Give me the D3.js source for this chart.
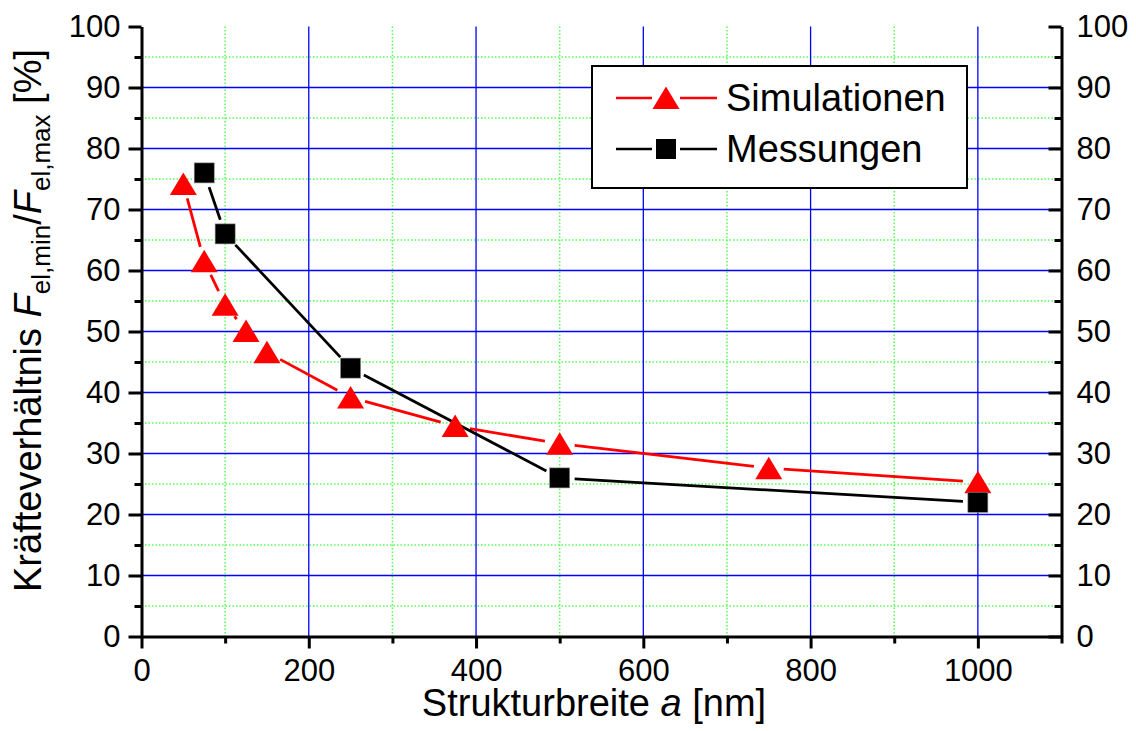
<!DOCTYPE html>
<html>
<head>
<meta charset="utf-8">
<script src="https://cdn.jsdelivr.net/npm/d3@7"></script>
<style>
body{margin:0;background:#fff;}
text{font-family:"Liberation Sans",Arial,sans-serif;fill:#000;}
</style>
</head>
<body>
<svg id="chart" width="1136" height="731"></svg>
<script>
// Simulationen (triangles)
var simX = [50, 75, 100, 125, 150, 250, 375, 500, 750, 1000]
var simY = [74.2, 61.5, 54.4, 50.1, 46.6, 39.2, 34.5, 31.6, 27.6, 25.3]
// Messungen (squares)
var messX = [75, 100, 250, 500, 1000]
var messY = [76, 66, 44, 26, 22]

var xTicks = [0, 200, 400, 600, 800, 1000]
var yTicks = [0, 10, 20, 30, 40, 50, 60, 70, 80, 90, 100]
var seriesNames = ["Simulationen", "Messungen"]

var svg = d3.select("#chart")
var plotLeft = 141.5, plotRight = 1061.5, plotTop = 26.5, plotBottom = 636.5

var xScale = d3.scaleLinear().domain([0, 1100]).range([plotLeft, plotRight])
var yScale = d3.scaleLinear().domain([0, 100]).range([plotBottom, plotTop])

// minor grid (green dotted)
var xMinor = d3.range(100, 1100, 200)
var yMinor = d3.range(5, 100, 10)
svg.append("g").selectAll("line").data(xMinor).enter().append("line")
    .attr("x1", function(d){return xScale(d)}).attr("x2", function(d){return xScale(d)})
    .attr("y1", plotTop).attr("y2", plotBottom)
    .attr("stroke", "#55ff55").attr("stroke-width", 1.5).attr("stroke-dasharray", "1.5,2")
svg.append("g").selectAll("line").data(yMinor).enter().append("line")
    .attr("y1", function(d){return yScale(d)}).attr("y2", function(d){return yScale(d)})
    .attr("x1", plotLeft).attr("x2", plotRight)
    .attr("stroke", "#55ff55").attr("stroke-width", 1.5).attr("stroke-dasharray", "1.5,2")
// major grid (blue)
svg.append("g").selectAll("line").data(xTicks.filter(function(d){return d > 0})).enter().append("line")
    .attr("x1", function(d){return xScale(d)}).attr("x2", function(d){return xScale(d)})
    .attr("y1", plotTop).attr("y2", plotBottom)
    .attr("stroke", "#0000ff").attr("stroke-width", 1.3)
svg.append("g").selectAll("line").data(yTicks.filter(function(d){return d > 0 && d < 100})).enter().append("line")
    .attr("y1", function(d){return yScale(d)}).attr("y2", function(d){return yScale(d)})
    .attr("x1", plotLeft).attr("x2", plotRight)
    .attr("stroke", "#0000ff").attr("stroke-width", 1.3)

// axes
function styleAxis(g){
    g.selectAll("path").attr("stroke", "#000").attr("stroke-width", 3)
    g.selectAll("line").attr("stroke", "#000").attr("stroke-width", 3)
    g.selectAll("text").style("font-size", "31px").style("font-family", "Liberation Sans, Arial, sans-serif")
}
var fmt = d3.format("d")
var xAxis = svg.append("g").attr("transform", "translate(0," + plotBottom + ")")
    .call(d3.axisBottom(xScale).tickValues(xTicks).tickFormat(fmt).tickSize(12).tickSizeOuter(0).tickPadding(10))
styleAxis(xAxis)
var xMinorAxis = svg.append("g").attr("transform", "translate(0," + plotBottom + ")")
    .call(d3.axisBottom(xScale).tickValues(xMinor.concat([1100])).tickSize(7).tickSizeOuter(0).tickFormat(""))
styleAxis(xMinorAxis)
xMinorAxis.select("path").remove()

var yAxisL = svg.append("g").attr("transform", "translate(" + plotLeft + ",0)")
    .call(d3.axisLeft(yScale).tickValues(yTicks).tickFormat(fmt).tickSize(13).tickSizeOuter(0).tickPadding(8))
styleAxis(yAxisL)
var yMinorL = svg.append("g").attr("transform", "translate(" + plotLeft + ",0)")
    .call(d3.axisLeft(yScale).tickValues(yMinor).tickSize(7).tickFormat(""))
styleAxis(yMinorL)
yMinorL.select("path").remove()

var yAxisR = svg.append("g").attr("transform", "translate(" + plotRight + ",0)")
    .call(d3.axisRight(yScale).tickValues(yTicks).tickFormat(fmt).tickSize(-13).tickSizeOuter(0).tickPadding(15))
styleAxis(yAxisR)
var yMinorR = svg.append("g").attr("transform", "translate(" + plotRight + ",0)")
    .call(d3.axisRight(yScale).tickValues(yMinor).tickSize(-7).tickFormat(""))
styleAxis(yMinorR)
yMinorR.select("path").remove()

// series lines with gaps near the markers
function gappedSegments(xs, ys, gap){
    var segs = []
    for (var i = 0; i < xs.length - 1; i++){
        var x1 = xScale(xs[i]), y1 = yScale(ys[i]), x2 = xScale(xs[i+1]), y2 = yScale(ys[i+1])
        var dx = x2 - x1, dy = y2 - y1, len = Math.sqrt(dx*dx + dy*dy)
        if (len <= 2*gap) continue
        var ux = dx/len, uy = dy/len
        segs.push([x1 + ux*gap, y1 + uy*gap, x2 - ux*gap, y2 - uy*gap])
    }
    return segs
}
svg.append("g").selectAll("line").data(gappedSegments(simX, simY, 15)).enter().append("line")
    .attr("x1", function(d){return d[0]}).attr("y1", function(d){return d[1]})
    .attr("x2", function(d){return d[2]}).attr("y2", function(d){return d[3]})
    .attr("stroke", "#ff0000").attr("stroke-width", 2.8)
svg.append("g").selectAll("line").data(gappedSegments(messX, messY, 15)).enter().append("line")
    .attr("x1", function(d){return d[0]}).attr("y1", function(d){return d[1]})
    .attr("x2", function(d){return d[2]}).attr("y2", function(d){return d[3]})
    .attr("stroke", "#000").attr("stroke-width", 2.8)

var triPath = "M0,-11.5L13.5,11L-13.5,11Z"
var simPts = simX.map(function(x, i){return [x, simY[i]]})
var messPts = messX.map(function(x, i){return [x, messY[i]]})
svg.append("g").selectAll("path").data(simPts).enter().append("path")
    .attr("d", triPath)
    .attr("transform", function(d){return "translate(" + xScale(d[0]) + "," + yScale(d[1]) + ")"})
    .attr("fill", "#ff0000")
svg.append("g").selectAll("rect").data(messPts).enter().append("rect")
    .attr("x", function(d){return xScale(d[0]) - 10})
    .attr("y", function(d){return yScale(d[1]) - 10})
    .attr("width", 20).attr("height", 20)
    .attr("fill", "#000").attr("stroke", "#888").attr("stroke-width", 0.6)

// legend
var legend = svg.append("g")
legend.append("rect").attr("x", 592).attr("y", 66).attr("width", 375).attr("height", 122)
    .attr("fill", "#fff").attr("stroke", "#000").attr("stroke-width", 2)
var legY = [98, 149]
var legColors = ["#ff0000", "#000"]
seriesNames.forEach(function(name, i){
    legend.append("line").attr("x1", 616).attr("x2", 652).attr("y1", legY[i]).attr("y2", legY[i])
        .attr("stroke", legColors[i]).attr("stroke-width", 2.5)
    legend.append("line").attr("x1", 680).attr("x2", 717).attr("y1", legY[i]).attr("y2", legY[i])
        .attr("stroke", legColors[i]).attr("stroke-width", 2.5)
    if (i == 0){
        legend.append("path").attr("d", triPath).attr("transform", "translate(666," + legY[i] + ")").attr("fill", "#ff0000")
    } else {
        legend.append("rect").attr("x", 656).attr("y", legY[i] - 10).attr("width", 20).attr("height", 20).attr("fill", "#000")
    }
    legend.append("text").attr("x", 726).attr("y", legY[i] + 13).style("font-size", "38px").text(name)
})

// axis titles
var xt = svg.append("text").attr("x", 594).attr("y", 716).attr("text-anchor", "middle").style("font-size", "38px")
xt.append("tspan").text("Strukturbreite ")
xt.append("tspan").style("font-style", "italic").text("a")
xt.append("tspan").text(" [nm]")

var yt = svg.append("text").attr("transform", "translate(41,592) rotate(-90)").attr("x", 0).attr("y", 0).style("font-size", "38px")
yt.append("tspan").text("Kräfteverhältnis ")
yt.append("tspan").style("font-style", "italic").text("F")
yt.append("tspan").attr("dy", 9).style("font-size", "26px").text("el,min")
yt.append("tspan").attr("dy", -9).text("/")
yt.append("tspan").style("font-style", "italic").text("F")
yt.append("tspan").attr("dy", 9).style("font-size", "26px").text("el,max")
yt.append("tspan").attr("dy", -9).text(" [%]")
</script>
</body>
</html>
